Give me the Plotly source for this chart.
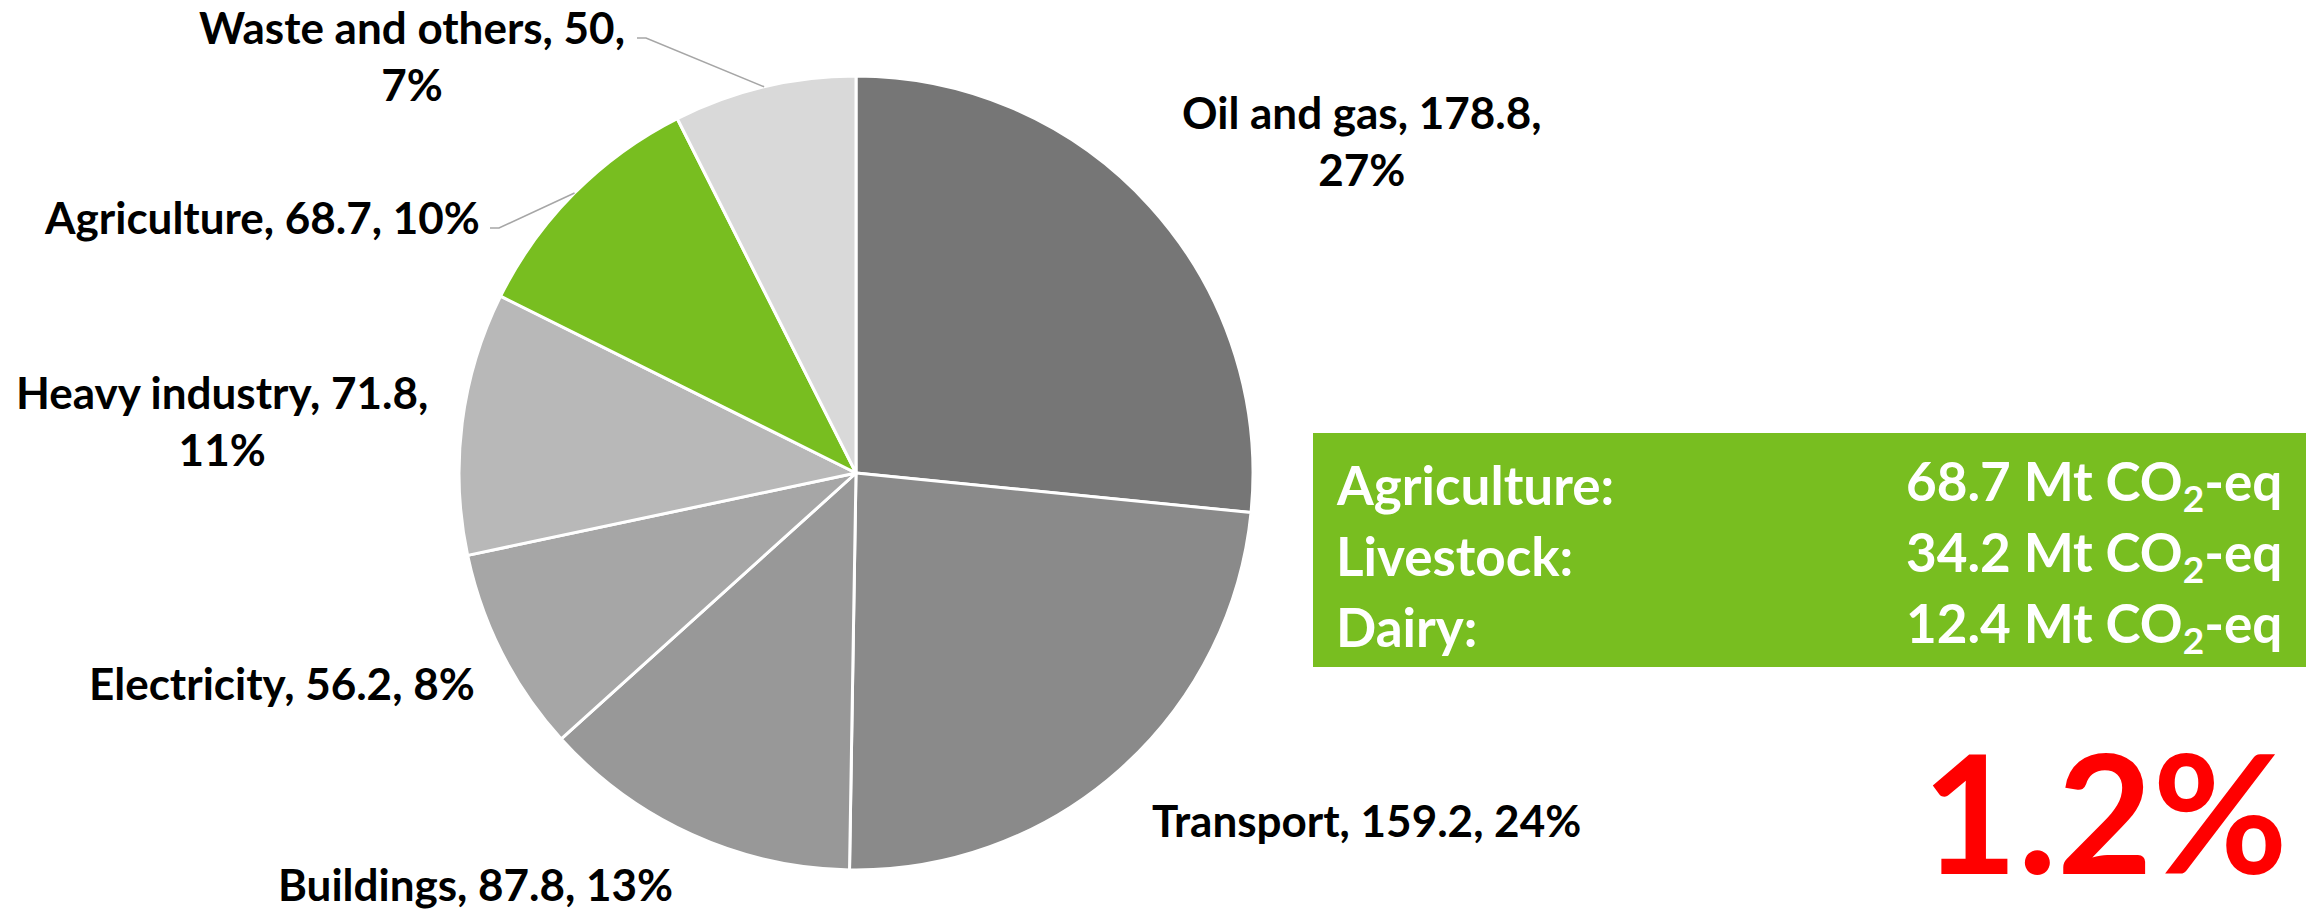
import math
import plotly.graph_objects as go

# Greenhouse gas emissions by sector (Mt CO2-eq)
sectors = ["Oil and gas", "Transport", "Buildings", "Electricity",
           "Heavy industry", "Agriculture", "Waste and others"]
emissions = [178.8, 159.2, 87.8, 56.2, 71.8, 68.7, 50]
slice_colors = ["#767676", "#8a8a8a", "#989898", "#a6a6a6",
                "#b8b8b8", "#78be20", "#d9d9d9"]

# Agriculture breakdown shown in the side box
box_labels = ["Agriculture:", "Livestock:", "Dairy:"]
box_values = [68.7, 34.2, 12.4]
headline = "1.2%"

W, H = 2318, 911
FONT = "Lato"

# pie placement in pixels
CX, CY, R = 856, 473, 397


def px(x):
    return x / W


def py(y):
    return 1 - y / H


total = sum(emissions)
pcts = [round(v / total * 100) for v in emissions]

fig = go.Figure(go.Pie(
    labels=sectors,
    values=emissions,
    sort=False,
    direction="clockwise",
    rotation=0,
    marker=dict(colors=slice_colors, line=dict(color="white", width=3)),
    textinfo="none",
    hoverinfo="label+value+percent",
    showlegend=False,
    domain=dict(x=[px(CX - R), px(CX + R)], y=[py(CY + R), py(CY - R)]),
))

# label anchor (pixel centre) and whether the percentage wraps to a new line
label_layout = {
    "Oil and gas": (1362, 140, True),
    "Transport": (1366, 820, False),
    "Buildings": (475, 884, False),
    "Electricity": (282, 683, False),
    "Heavy industry": (222, 420, True),
    "Agriculture": (262, 217, False),
    "Waste and others": (412, 56, True),
}

annotations = []
for name, v, p in zip(sectors, emissions, pcts):
    x, y, wrap = label_layout[name]
    sep = ",<br>" if wrap else ", "
    text = f"<b>{name}, {v:g}{sep}{p}%</b>"
    annotations.append(dict(
        x=px(x), y=py(y), xref="paper", yref="paper",
        text=text, showarrow=False, xanchor="center", yanchor="middle",
        font=dict(family=FONT, size=44, color="black"),
        align="center",
    ))

# leader lines for the outer labels, ending at the slice mid-angle on the rim
shapes = []
leader_starts = {"Agriculture": (490, 228), "Waste and others": (637, 38)}
cum = 0
for name, v in zip(sectors, emissions):
    mid = (cum + v / 2) / total * 2 * math.pi
    cum += v
    if name in leader_starts:
        sx, sy = leader_starts[name]
        ex = CX + R * math.sin(mid)
        ey = CY - R * math.cos(mid)
        path = (f"M {px(sx)} {py(sy)} L {px(sx + 9)} {py(sy)} "
                f"L {px(ex)} {py(ey)}")
        shapes.append(dict(type="path", xref="paper", yref="paper", path=path,
                           line=dict(color="#a6a6a6", width=1.5)))

# green summary box
shapes.append(dict(type="rect", xref="paper", yref="paper",
                   x0=px(1313), x1=px(2306), y0=py(667), y1=py(433),
                   fillcolor="#78be20", line=dict(width=0), layer="below"))

row_y = [485, 555, 626]
for lab, val, y in zip(box_labels, box_values, row_y):
    annotations.append(dict(
        x=px(1334), y=py(y), xref="paper", yref="paper", text=f"<b>{lab}</b>",
        showarrow=False, xanchor="left", yanchor="middle",
        font=dict(family=FONT, size=53, color="white"),
    ))
    annotations.append(dict(
        x=px(2284), y=py(y), xref="paper", yref="paper",
        text=f"<b>{val:g} Mt CO<sub>2</sub>-eq</b>",
        showarrow=False, xanchor="right", yanchor="middle",
        font=dict(family=FONT, size=53, color="white"),
    ))

annotations.append(dict(
    x=px(2290), y=0.0, xref="paper", yref="paper", text=f"<b>{headline}</b>",
    showarrow=False, xanchor="right", yanchor="bottom",
    font=dict(family=FONT, size=165, color="#ff0000"),
))

fig.update_layout(
    width=W, height=H,
    margin=dict(l=0, r=0, t=0, b=0),
    paper_bgcolor="white", plot_bgcolor="white",
    font=dict(family=FONT, color="black"),
    annotations=annotations,
    shapes=shapes,
)

fig.write_html("out.html")
